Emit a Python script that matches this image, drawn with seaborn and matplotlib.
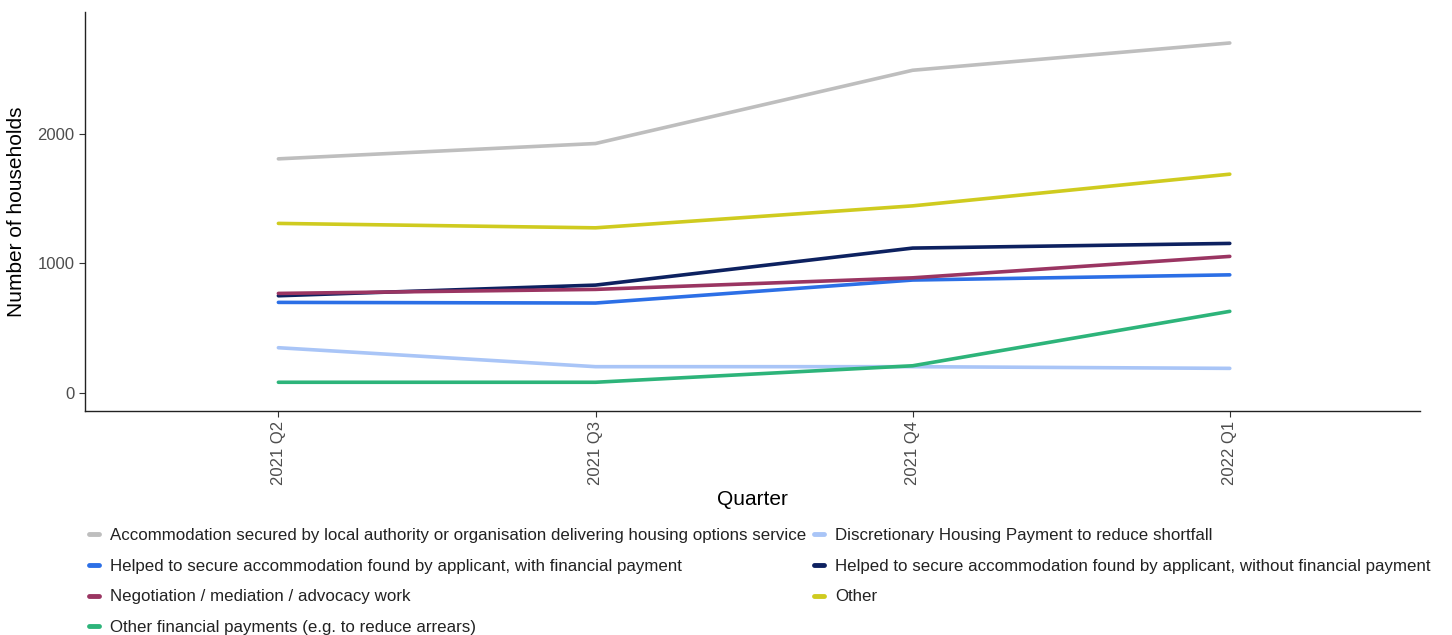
import matplotlib
matplotlib.use("Agg")
import matplotlib.pyplot as plt
import seaborn as sns
import pandas as pd
from matplotlib.lines import Line2D

quarters = ["2021 Q2", "2021 Q3", "2021 Q4", "2022 Q1"]
accom_la = [1805, 1923, 2487, 2697]
dhp = [351, 205, 205, 192]
helped_with = [700, 695, 872, 912]
helped_without = [751, 833, 1118, 1154]
negotiation = [769, 800, 889, 1054]
other = [1308, 1274, 1443, 1687]
other_fin = [85, 85, 212, 631]

names = [
    "Accommodation secured by local authority or organisation delivering housing options service",
    "Discretionary Housing Payment to reduce shortfall",
    "Helped to secure accommodation found by applicant, with financial payment",
    "Helped to secure accommodation found by applicant, without financial payment",
    "Negotiation / mediation / advocacy work",
    "Other",
    "Other financial payments (e.g. to reduce arrears)",
]
series = [accom_la, dhp, helped_with, helped_without, negotiation, other, other_fin]
colors = ["#BEBEBE", "#A9C5F7", "#2C6FE6", "#0D2160", "#9A3562", "#CFCB1F", "#2DB47A"]

rows = []
for n, vals in zip(names, series):
    for i, (q, v) in enumerate(zip(quarters, vals)):
        rows.append({"Quarter": q, "x": i, "value": v, "type": n})
df = pd.DataFrame(rows)

sns.set_theme(style="white")
plt.rcParams["font.family"] = ["Liberation Sans", "DejaVu Sans"]

fig = plt.figure(figsize=(14.52, 6.35), dpi=100)
ax = fig.add_axes([0.0585, 0.353, 0.9195, 0.628])

sns.lineplot(data=df, x="x", y="value", hue="type", hue_order=names,
             palette=dict(zip(names, colors)), linewidth=2.6, ax=ax, legend=False)

ax.set_xlim(-0.61, 3.6)
ax.set_ylim(-135, 2935)
ax.set_xticks(range(len(quarters)))
ax.set_xticklabels(quarters, rotation=90, fontsize=12, color="#4D4D4D")
ax.set_yticks([0, 1000, 2000])
ax.set_yticklabels(["0", "1000", "2000"], fontsize=12, color="#4D4D4D")
ax.tick_params(axis="both", length=4, width=0.8, color="#333333", bottom=True, left=True)
for s in ["top", "right"]:
    ax.spines[s].set_visible(False)
for s in ["left", "bottom"]:
    ax.spines[s].set_color("#222222")
    ax.spines[s].set_linewidth(1.0)
ax.set_xlabel("Quarter", fontsize=15, color="black", labelpad=3)
ax.set_ylabel("Number of households", fontsize=15, color="black", labelpad=8)

# legend, row-wise order in two columns
order_col1 = [0, 2, 4, 6]
order_col2 = [1, 3, 5]
handles = [Line2D([0], [0], color=colors[i], linewidth=3.5) for i in order_col1 + order_col2]
labels = [names[i] for i in order_col1 + order_col2]
fig.legend(handles, labels, loc="upper left", bbox_to_anchor=(0.061, 0.168),
           ncol=2, frameon=False, fontsize=12.2, handlelength=0.6,
           handletextpad=0.65, columnspacing=0.45, labelspacing=0.92,
           borderaxespad=0, borderpad=0, labelcolor="#222222")

fig.savefig("out.png", dpi=100)
